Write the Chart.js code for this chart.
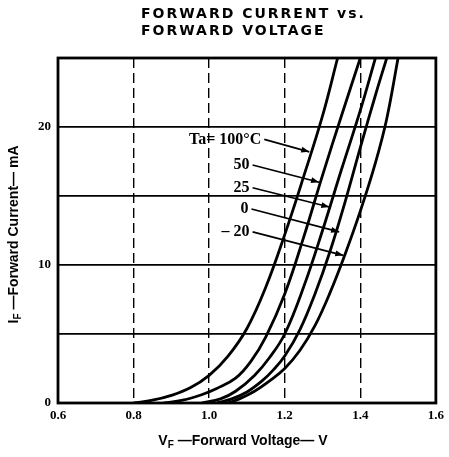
<!DOCTYPE html>
<html>
<head>
<meta charset="utf-8">
<script src="https://cdn.jsdelivr.net/npm/chart.js@4.4.1/dist/chart.umd.min.js"></script>
<style>
  html, body { margin: 0; padding: 0; background: #fff; }
  canvas { display: block; }
</style>
</head>
<body>
<canvas id="chart" width="449" height="457"></canvas>
<script>
// forward voltage (V) / forward current (mA), one pair per ambient temperature
const volts100 = [0.80, 0.85, 0.90, 0.95, 1.00, 1.05, 1.10, 1.15, 1.20, 1.25, 1.30, 1.34];
const amps100 = [0, 0.2, 0.55, 1.1, 2.0, 3.4, 5.4, 8.4, 12.2, 16.4, 20.8, 25];

const volts50 = [0.88, 0.93, 0.98, 1.02, 1.07, 1.11, 1.15, 1.20, 1.25, 1.30, 1.35, 1.40];
const amps50 = [0, 0.2, 0.6, 1.05, 1.8, 3.0, 4.8, 7.9, 12.0, 16.5, 20.8, 25];

const volts25 = [0.98, 1.03, 1.07, 1.12, 1.16, 1.20, 1.25, 1.30, 1.35, 1.40, 1.44];
const amps25 = [0, 0.3, 0.85, 2.0, 3.3, 5.0, 8.4, 12.5, 16.9, 21.2, 25];

const volts0 = [1.02, 1.06, 1.10, 1.14, 1.17, 1.20, 1.24, 1.28, 1.32, 1.36, 1.40, 1.44, 1.47];
const amps0 = [0, 0.3, 0.8, 1.6, 2.4, 3.4, 5.3, 7.9, 11.0, 14.6, 18.5, 22.3, 25];

const voltsM20 = [1.05, 1.08, 1.12, 1.16, 1.20, 1.24, 1.28, 1.32, 1.36, 1.40, 1.44, 1.47, 1.50];
const ampsM20 = [0, 0.3, 0.85, 1.6, 2.5, 3.8, 5.6, 8.0, 10.8, 13.9, 17.4, 20.6, 25];

// temperature callouts: text anchor and arrow tip, in data units
const tempLabels = ["Ta= 100°C", "50", "25", "0", "– 20"];
const labelV = [1.138, 1.107, 1.107, 1.104, 1.107];
const labelI = [19.1, 17.25, 15.6, 14.06, 12.4];
const tipV = [1.265, 1.291, 1.318, 1.344, 1.355];
const tipI = [18.2, 16.0, 14.2, 12.4, 10.7];

const titleLines = ["FORWARD CURRENT vs.", "FORWARD VOLTAGE"];

function pts(vs, is) {
  return vs.map((v, i) => ({ x: v, y: is[i] }));
}

function curve(vs, is) {
  return {
    data: pts(vs, is),
    showLine: true,
    borderColor: "#000",
    borderWidth: 2.8,
    pointRadius: 0,
    tension: 0.4,
    fill: false
  };
}

function drawSub(ctx, main, sub, rest, cx, cy, size) {
  const big = "bold " + size + "px 'Liberation Sans'";
  const small = "bold " + Math.round(size * 0.7) + "px 'Liberation Sans'";
  ctx.font = big;
  const w1 = ctx.measureText(main).width;
  const w3 = ctx.measureText(rest).width;
  ctx.font = small;
  const w2 = ctx.measureText(sub).width;
  let x = cx - (w1 + w2 + w3) / 2;
  ctx.textAlign = "left";
  ctx.textBaseline = "middle";
  ctx.font = big;
  ctx.fillText(main, x, cy);
  x += w1;
  ctx.font = small;
  ctx.fillText(sub, x, cy + 4);
  x += w2;
  ctx.font = big;
  ctx.fillText(rest, x, cy);
}

const decor = {
  id: "decor",
  afterDatasetsDraw(chart) {
    const { ctx, chartArea: a, scales: { x, y } } = chart;
    ctx.save();
    ctx.strokeStyle = "#000";
    ctx.fillStyle = "#000";
    ctx.lineWidth = 2.8;
    ctx.strokeRect(a.left, a.top, a.right - a.left, a.bottom - a.top);

    ctx.font = "bold 16px 'Liberation Serif'";
    ctx.textAlign = "right";
    ctx.textBaseline = "middle";
    tempLabels.forEach((t, i) => {
      const lx = x.getPixelForValue(labelV[i]);
      const ly = y.getPixelForValue(labelI[i]);
      const tx = x.getPixelForValue(tipV[i]);
      const ty = y.getPixelForValue(tipI[i]);
      ctx.fillText(t, lx, ly);
      const sx = lx + 3;
      const sy = ly;
      ctx.lineWidth = 1.7;
      ctx.beginPath();
      ctx.moveTo(sx, sy);
      ctx.lineTo(tx, ty);
      ctx.stroke();
      const ang = Math.atan2(ty - sy, tx - sx);
      const c = Math.cos(ang), s = Math.sin(ang);
      ctx.beginPath();
      ctx.moveTo(tx, ty);
      ctx.lineTo(tx - 8 * c + 3 * s, ty - 8 * s - 3 * c);
      ctx.lineTo(tx - 8 * c - 3 * s, ty - 8 * s + 3 * c);
      ctx.closePath();
      ctx.fill();
    });
    ctx.restore();
  },
  afterDraw(chart) {
    const { ctx, chartArea: a } = chart;
    ctx.save();
    ctx.fillStyle = "#000";

    ctx.font = "bold 14px 'DejaVu Sans'";
    ctx.letterSpacing = "2px";
    ctx.textAlign = "left";
    ctx.textBaseline = "alphabetic";
    ctx.fillText(titleLines[0], 141, 18);
    ctx.fillText(titleLines[1], 141, 35);
    ctx.letterSpacing = "0px";

    drawSub(ctx, "V", "F", " —Forward Voltage— V", (a.left + a.right) / 2 - 4, 441, 14);

    ctx.translate(14, (a.top + a.bottom) / 2 + 4);
    ctx.rotate(-Math.PI / 2);
    drawSub(ctx, "I", "F", " —Forward Current— mA", 0, 0, 14);
    ctx.restore();
  }
};

const tickFont = { family: "'Liberation Serif'", size: 13, weight: "bold" };

new Chart(document.getElementById("chart"), {
  type: "scatter",
  data: {
    datasets: [
      curve(volts100, amps100),
      curve(volts50, amps50),
      curve(volts25, amps25),
      curve(volts0, amps0),
      curve(voltsM20, ampsM20)
    ]
  },
  options: {
    responsive: false,
    animation: false,
    layout: { padding: { top: 58, right: 12, left: 0, bottom: 0 } },
    plugins: { legend: { display: false }, tooltip: { enabled: false } },
    scales: {
      x: {
        type: "linear",
        min: 0.6,
        max: 1.6,
        afterFit: (s) => { s.height = 54; },
        ticks: { stepSize: 0.2, callback: (v) => v.toFixed(1), font: tickFont, color: "#000", padding: 5 },
        grid: { color: "#000", lineWidth: 1.4, drawTicks: false },
        border: { display: false, dash: [10, 5] }
      },
      y: {
        min: 0,
        max: 25,
        afterFit: (s) => { s.width = 58; },
        ticks: { stepSize: 5, callback: (v) => (v % 10 === 0 ? v : ""), font: tickFont, color: "#000", padding: 7 },
        grid: { color: "#000", lineWidth: 1.8, drawTicks: false },
        border: { display: false }
      }
    }
  },
  plugins: [decor]
});
</script>
</body>
</html>
